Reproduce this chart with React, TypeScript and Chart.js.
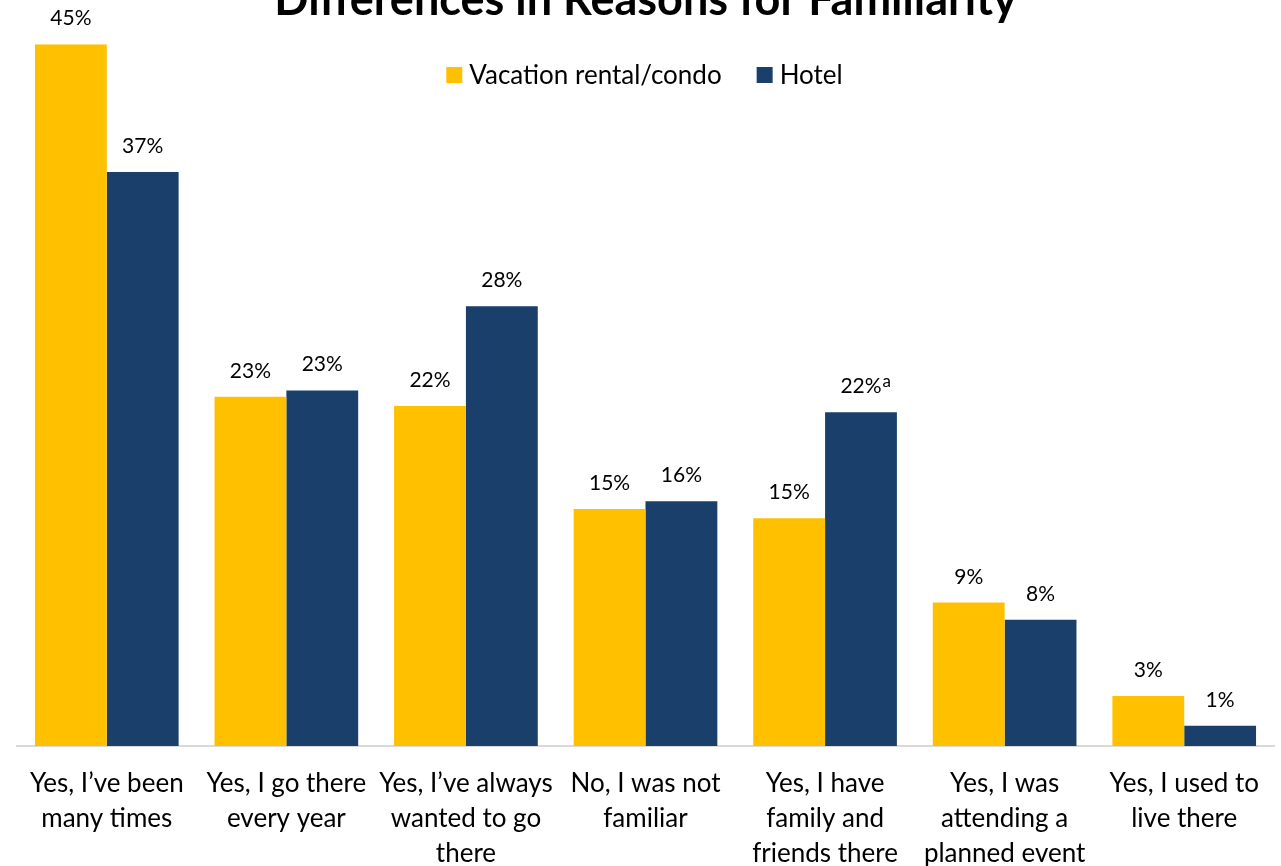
import React, { useEffect, useRef } from "react";
import { Chart, registerables } from "chart.js";

Chart.register(...registerables);

const titleText = "Differences in Reasons for Familiarity";
const seriesNames = ["Vacation rental/condo", "Hotel"];
const seriesColors = ["#FFC000", "#1A3F6B"];

const categories: string[][] = [
  ["Yes, I’ve been", "many times"],
  ["Yes, I go there", "every year"],
  ["Yes, I’ve always", "wanted to go", "there"],
  ["No, I was not", "familiar"],
  ["Yes, I have", "family and", "friends there"],
  ["Yes, I was", "attending a", "planned event"],
  ["Yes, I used to", "live there"],
];

const vacationValues = [45.0, 22.4, 21.8, 15.2, 14.6, 9.2, 3.2];
const hotelValues = [36.8, 22.8, 28.2, 15.7, 21.4, 8.1, 1.3];

const vacationLabels = ["45%", "23%", "22%", "15%", "15%", "9%", "3%"];
const hotelLabels = ["37%", "23%", "28%", "16%", "22%", "8%", "1%"];
const hotelNotes = ["", "", "", "", "a", "", ""];

const FONT = "Lato, 'Open Sans', sans-serif";

const valueLabelPlugin = {
  id: "valueLabels",
  afterDatasetsDraw(chart: any) {
    const ctx = chart.ctx;
    const labelSets = [vacationLabels, hotelLabels];
    const noteSets = [vacationLabels.map(() => ""), hotelNotes];
    ctx.save();
    ctx.fillStyle = "#000";
    chart.data.datasets.forEach((_ds: any, di: number) => {
      const meta = chart.getDatasetMeta(di);
      meta.data.forEach((bar: any, i: number) => {
        const txt = labelSets[di][i];
        const y = bar.y - 19;
        ctx.font = `21px ${FONT}`;
        ctx.textAlign = "center";
        ctx.textBaseline = "alphabetic";
        ctx.fillText(txt, bar.x, y);
        const note = noteSets[di][i];
        if (note) {
          const w = ctx.measureText(txt).width;
          ctx.font = `17px ${FONT}`;
          ctx.textAlign = "left";
          ctx.fillText(note, bar.x + w / 2 + 1, y - 6);
        }
      });
    });
    ctx.restore();
  },
};

const legendPlugin = {
  id: "topLegend",
  afterDraw(chart: any) {
    const ctx = chart.ctx;
    ctx.save();
    ctx.font = `26px ${FONT}`;
    const items = chart.data.datasets.map((ds: any) => ({
      text: ds.label as string,
      color: ds.backgroundColor as string,
    }));
    const box = 16;
    const gap = 7;
    const spacing = 35;
    let total = 0;
    items.forEach((it: any, i: number) => {
      total += box + gap + ctx.measureText(it.text).width + (i < items.length - 1 ? spacing : 0);
    });
    let x = (chart.width - total) / 2 + 4;
    const yc = 105;
    ctx.textBaseline = "middle";
    ctx.textAlign = "left";
    items.forEach((it: any) => {
      ctx.fillStyle = it.color;
      ctx.fillRect(x, yc - box / 2, box, box);
      x += box + gap;
      ctx.fillStyle = "#000";
      ctx.fillText(it.text, x, yc + 1);
      x += ctx.measureText(it.text).width + spacing;
    });
    ctx.restore();
  },
};

export default function App() {
  const ref = useRef<HTMLCanvasElement | null>(null);

  useEffect(() => {
    if (!ref.current) return;
    const chart = new Chart(ref.current, {
      type: "bar",
      data: {
        labels: categories,
        datasets: [
          {
            label: seriesNames[0],
            data: vacationValues,
            backgroundColor: seriesColors[0],
            categoryPercentage: 0.8,
            barPercentage: 1.0,
          },
          {
            label: seriesNames[1],
            data: hotelValues,
            backgroundColor: seriesColors[1],
            categoryPercentage: 0.8,
            barPercentage: 1.0,
          },
        ],
      },
      options: {
        responsive: false,
        animation: false,
        layout: { padding: { left: 17, right: 7, top: 0, bottom: 0 } },
        plugins: {
          legend: { display: false },
          tooltip: { enabled: false },
          title: {
            display: true,
            text: titleText,
            color: "#000",
            font: { family: FONT, size: 45, weight: "bold" },
            padding: { top: 3, bottom: 17.2 },
          },
        },
        scales: {
          x: {
            grid: { display: false, drawTicks: false },
            border: { display: true, color: "#D9D9D9", width: 2 },
            ticks: {
              color: "#000",
              font: { family: FONT, size: 26, lineHeight: 35 / 26 },
              padding: 20,
              autoSkip: false,
              maxRotation: 0,
              minRotation: 0,
            },
            afterFit: (scale: any) => {
              scale.height = 120;
            },
          },
          y: {
            display: false,
            min: 0,
            max: 45,
          },
        },
      },
      plugins: [valueLabelPlugin, legendPlugin],
    } as any);
    return () => chart.destroy();
  }, []);

  return (
    <div style={{ position: "absolute", left: 0, top: -30, width: 1281, height: 896 }}>
      <canvas ref={ref} width={1281} height={896} style={{ display: "block" }} />
    </div>
  );
}
